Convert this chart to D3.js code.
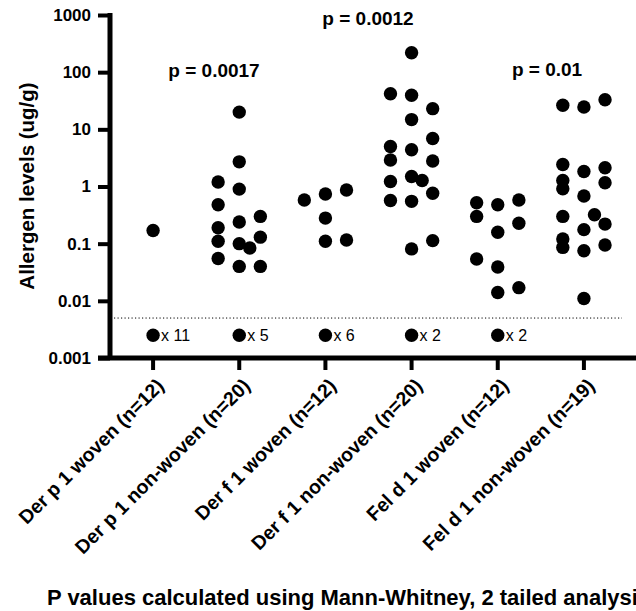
<!DOCTYPE html>
<html lang="en">
<head>
<meta charset="UTF-8" />
<title>Allergen levels</title>
<script src="https://d3js.org/d3.v7.min.js"></script>
<style>
  body { margin: 0; background: #fff; }
  svg { display: block; font-family: Arial, "Liberation Sans", sans-serif; }
</style>
</head>
<body>
<div id="chart"></div>
<script>
// categories on the x axis
const categories = [
  "Der p 1 woven (n=12)",
  "Der p 1 non-woven (n=20)",
  "Der f 1 woven (n=12)",
  "Der f 1 non-woven (n=20)",
  "Fel d 1 woven (n=12)",
  "Fel d 1 non-woven (n=19)"
];

// detected values (ug/g) with the scatter column they sit in (-1 left, 0 centre, 1 right)
const derP1Woven = [[0.17, 0]];
const derP1NonWoven = [
  [1.2, -1], [0.48, -1], [0.19, -1], [0.11, -1], [0.055, -1],
  [20, 0], [2.7, 0], [0.9, 0], [0.24, 0], [0.1, 0], [0.04, 0], [0.084, 0.5],
  [0.3, 1], [0.13, 1], [0.04, 1]
];
const derF1Woven = [
  [0.58, -1], [0.74, 0], [0.28, 0], [0.11, 0], [0.87, 1], [0.116, 1]
];
const derF1NonWoven = [
  [42, -1], [5.0, -1], [2.9, -1], [1.22, -1], [0.57, -1],
  [218, 0], [39.5, 0], [14.8, 0], [4.4, 0], [1.5, 0], [0.55, 0], [0.081, 0], [1.27, 0.5],
  [23, 1], [6.9, 1], [2.8, 1], [0.76, 1], [0.113, 1]
];
const felD1Woven = [
  [0.52, -1], [0.30, -1], [0.054, -1],
  [0.48, 0], [0.158, 0], [0.039, 0], [0.014, 0],
  [0.58, 1], [0.227, 1], [0.017, 1]
];
const felD1NonWoven = [
  [26.4, -1], [2.43, -1], [1.27, -1], [0.91, -1], [0.30, -1], [0.121, -1], [0.086, -1],
  [24.6, 0], [1.83, 0], [0.68, 0], [0.176, 0], [0.075, 0], [0.011, 0], [0.32, 0.5],
  [33, 1], [2.13, 1], [1.16, 1], [0.22, 1], [0.095, 1]
];
const groups = [derP1Woven, derP1NonWoven, derF1Woven, derF1NonWoven, felD1Woven, felD1NonWoven];

// samples below the detection limit, per category
const belowLimit = [11, 5, 6, 2, 2, 0];
const detectionLimit = 0.005;
const belowLimitValue = 0.0025;

// y tick labels
const yTicks = [1000, 100, 10, 1, 0.1, 0.01, 0.001];
const yTickLabels = ["1000", "100", "10", "1", "0.1", "0.01", "0.001"];

// p values between pairs of categories
const pLabels = ["p = 0.0017", "p = 0.0012", "p = 0.01"];

const width = 636, height = 611;
const plotLeft = 110, plotRight = 627, plotTop = 15, plotBottom = 358;

const svg = d3.select("#chart").append("svg")
  .attr("width", width)
  .attr("height", height);

const x = d3.scaleBand().domain(categories).range([plotLeft, plotRight]);
const cx = (c) => x(c) + x.bandwidth() / 2;
const y = d3.scaleLog().domain([0.001, 1000]).range([plotBottom, plotTop]);
const colStep = x.bandwidth() * 0.245;

// y axis
const yAxis = svg.append("g")
  .attr("transform", `translate(${plotLeft},0)`)
  .call(d3.axisLeft(y).tickValues(yTicks)
    .tickFormat((d, i) => yTickLabels[i]).tickSize(12).tickPadding(7));
yAxis.select(".domain").remove();
yAxis.selectAll(".tick line").attr("stroke", "#000").attr("stroke-width", 4);
yAxis.selectAll("text")
  .attr("font-size", 17).attr("font-weight", "bold").attr("fill", "#000")
  .attr("font-family", "Arial, 'Liberation Sans', sans-serif");

svg.append("line")
  .attr("x1", plotLeft).attr("x2", plotLeft)
  .attr("y1", plotTop - 2).attr("y2", plotBottom)
  .attr("stroke", "#000").attr("stroke-width", 5);

// x axis
const xAxis = svg.append("g")
  .attr("transform", `translate(0,${plotBottom})`)
  .call(d3.axisBottom(x).tickSize(12).tickFormat(""));
xAxis.select(".domain").remove();
xAxis.selectAll(".tick line").attr("stroke", "#000").attr("stroke-width", 4);

svg.append("line")
  .attr("x1", plotLeft - 12).attr("x2", width)
  .attr("y1", plotBottom).attr("y2", plotBottom)
  .attr("stroke", "#000").attr("stroke-width", 5);

// rotated category labels
svg.append("g").selectAll("text")
  .data(categories)
  .join("text")
  .attr("transform", (d) => `translate(${cx(d) + 12},${plotBottom + 29}) rotate(-45)`)
  .attr("text-anchor", "end")
  .attr("font-size", 19.5)
  .attr("font-weight", "bold")
  .text((d) => d);

// y axis title
svg.append("text")
  .attr("transform", `translate(34,186) rotate(-90)`)
  .attr("text-anchor", "middle")
  .attr("font-size", 20.5)
  .attr("font-weight", "bold")
  .text("Allergen levels (ug/g)");

// detection limit
svg.append("line")
  .attr("x1", plotLeft + 4).attr("x2", 622)
  .attr("y1", y(detectionLimit)).attr("y2", y(detectionLimit))
  .attr("stroke", "#000").attr("stroke-width", 1)
  .attr("stroke-dasharray", "1.2,2.3");

// data points
const r = 6.7;
groups.forEach((g, i) => {
  svg.append("g").selectAll("circle")
    .data(g)
    .join("circle")
    .attr("cx", (d) => cx(categories[i]) + d[1] * colStep)
    .attr("cy", (d) => y(d[0]))
    .attr("r", r)
    .attr("fill", "#000");
});

// below detection limit markers
const lod = svg.append("g").selectAll("g")
  .data(belowLimit.map((n, i) => ({ n, c: categories[i] })).filter((d) => d.n > 0))
  .join("g");
lod.append("circle")
  .attr("cx", (d) => cx(d.c))
  .attr("cy", y(belowLimitValue))
  .attr("r", r)
  .attr("fill", "#000");
lod.append("text")
  .attr("x", (d) => cx(d.c) + 8)
  .attr("y", y(belowLimitValue) + 6)
  .attr("font-size", 16)
  .text((d) => "x " + d.n);

// p values
const pPos = [[214, 77], [368, 25], [547, 76]];
svg.append("g").selectAll("text")
  .data(pLabels)
  .join("text")
  .attr("x", (d, i) => pPos[i][0])
  .attr("y", (d, i) => pPos[i][1])
  .attr("text-anchor", "middle")
  .attr("font-size", 19)
  .attr("font-weight", "bold")
  .text((d) => d);

// footnote
svg.append("text")
  .attr("x", 47)
  .attr("y", 605)
  .attr("font-size", 22)
  .attr("font-weight", "bold")
  .text("P values calculated using Mann-Whitney, 2 tailed analysis");
</script>
</body>
</html>
